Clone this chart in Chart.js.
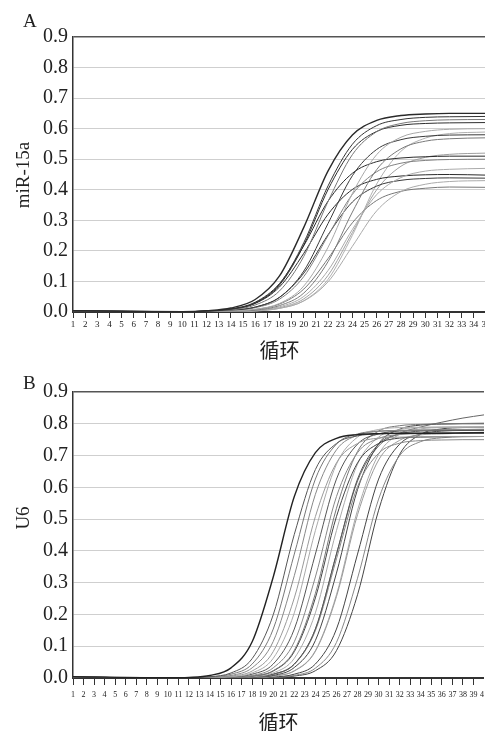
<!DOCTYPE html>
<html>
<head>
<meta charset="utf-8">
<script src="https://cdn.jsdelivr.net/npm/chart.js@4.4.1/dist/chart.umd.min.js"></script>
<style>
  body { margin: 0; background: #fff; overflow: hidden; width: 485px; height: 731px; position: relative; font-family: 'Liberation Serif', serif; }
  .box { position: absolute; left: 0; }
  .panel { position: absolute; font-size: 19px; line-height: 19px; color: #222; }
  .ytitle { position: absolute; font-size: 19px; line-height: 19px; color: #222; white-space: nowrap; transform: translate(-50%, -50%) rotate(-90deg); }
</style>
</head>
<body>
<div class="box" style="top:0; width:486px; height:365px"><canvas id="chartA"></canvas></div>
<div class="box" style="top:365px; width:484px; height:380px"><canvas id="chartB"></canvas></div>
<div class="panel" id="panelA" style="left:23px; top:11px"></div>
<div class="panel" id="panelB" style="left:23px; top:373px"></div>
<div class="ytitle" id="yTitleA" style="left:22px; top:175px"></div>
<div class="ytitle" id="yTitleB" style="left:22px; top:518px"></div>
<script>
// text
const xTitle = '循环';
const yTitleA = 'miR-15a';
const yTitleB = 'U6';
const panelA = 'A';
const panelB = 'B';

// A: miR-15a amplification curves, read at these cycles
const cyclesA = [1, 10, 12, 14, 16, 18, 20, 22, 24, 26, 28, 30, 32, 35];
const a01 = [0.004, 0.001, 0.004, 0.013, 0.041, 0.118, 0.277, 0.462, 0.579, 0.627, 0.643, 0.648, 0.650, 0.650];
const a02 = [0.004, 0.001, 0.003, 0.009, 0.030, 0.091, 0.227, 0.413, 0.549, 0.610, 0.630, 0.637, 0.639, 0.640];
const a03 = [0.003, 0.001, 0.002, 0.007, 0.023, 0.069, 0.182, 0.362, 0.515, 0.590, 0.617, 0.626, 0.629, 0.630];
const a04 = [0.003, 0.001, 0.003, 0.009, 0.029, 0.088, 0.219, 0.401, 0.532, 0.591, 0.611, 0.617, 0.619, 0.620];
const a05 = [0.002, 0.000, 0.001, 0.003, 0.009, 0.028, 0.085, 0.212, 0.388, 0.515, 0.572, 0.591, 0.598, 0.600];
const a06 = [0.003, 0.001, 0.001, 0.005, 0.016, 0.048, 0.134, 0.290, 0.446, 0.532, 0.564, 0.575, 0.579, 0.580];
const a07 = [0.002, 0.000, 0.001, 0.002, 0.006, 0.021, 0.062, 0.165, 0.327, 0.466, 0.534, 0.559, 0.567, 0.570];
const a08 = [0.004, 0.001, 0.003, 0.010, 0.032, 0.093, 0.217, 0.363, 0.454, 0.492, 0.504, 0.508, 0.510, 0.510];
const a09 = [0.003, 0.000, 0.001, 0.004, 0.014, 0.042, 0.116, 0.250, 0.385, 0.459, 0.487, 0.496, 0.499, 0.500];
const a10 = [0.002, 0.000, 0.000, 0.001, 0.005, 0.017, 0.051, 0.136, 0.270, 0.384, 0.440, 0.461, 0.467, 0.470];
const a11 = [0.004, 0.001, 0.003, 0.009, 0.028, 0.082, 0.192, 0.320, 0.401, 0.434, 0.445, 0.449, 0.450, 0.448];
const a12 = [0.003, 0.001, 0.001, 0.005, 0.016, 0.048, 0.127, 0.253, 0.360, 0.412, 0.431, 0.437, 0.439, 0.438];
const a13 = [0.002, 0.000, 0.000, 0.001, 0.003, 0.012, 0.036, 0.099, 0.215, 0.331, 0.394, 0.418, 0.427, 0.430];
const a14 = [0.002, 0.000, 0.001, 0.002, 0.008, 0.026, 0.075, 0.175, 0.292, 0.365, 0.395, 0.405, 0.409, 0.408];
const a15 = [0.002, 0.000, 0.000, 0.001, 0.004, 0.012, 0.037, 0.107, 0.251, 0.419, 0.526, 0.569, 0.584, 0.589];
const a16 = [0.002, 0.000, 0.000, 0.001, 0.004, 0.014, 0.043, 0.120, 0.260, 0.400, 0.477, 0.506, 0.516, 0.520];

// B: U6 amplification curves
const cyclesB = [1, 10, 12, 14, 16, 18, 20, 22, 24, 26, 28, 30, 32, 34, 36, 38, 40];
const b01 = [0.004, 0.001, 0.002, 0.008, 0.032, 0.114, 0.318, 0.571, 0.709, 0.754, 0.766, 0.769, 0.770, 0.770, 0.770, 0.771, 0.772];
const b02 = [0.004, 0.001, 0.001, 0.004, 0.016, 0.061, 0.199, 0.452, 0.656, 0.738, 0.762, 0.768, 0.770, 0.770, 0.771, 0.772, 0.773];
const b03 = [0.003, 0.000, 0.001, 0.002, 0.008, 0.032, 0.115, 0.322, 0.578, 0.718, 0.764, 0.776, 0.779, 0.780, 0.781, 0.782, 0.783];
const b04 = [0.003, 0.000, 0.000, 0.001, 0.006, 0.022, 0.083, 0.252, 0.508, 0.677, 0.738, 0.755, 0.758, 0.759, 0.760, 0.760, 0.760];
const b05 = [0.003, 0.000, 0.000, 0.001, 0.004, 0.016, 0.062, 0.205, 0.464, 0.673, 0.758, 0.782, 0.788, 0.789, 0.790, 0.790, 0.790];
const b06 = [0.003, 0.000, 0.000, 0.001, 0.003, 0.012, 0.044, 0.154, 0.390, 0.626, 0.736, 0.768, 0.777, 0.779, 0.780, 0.780, 0.781];
const b07 = [0.003, 0.000, 0.000, 0.000, 0.002, 0.008, 0.032, 0.114, 0.318, 0.571, 0.709, 0.754, 0.766, 0.769, 0.770, 0.770, 0.770];
const b08 = [0.002, 0.000, 0.000, 0.000, 0.001, 0.006, 0.023, 0.087, 0.266, 0.534, 0.713, 0.777, 0.794, 0.798, 0.800, 0.801, 0.802];
const b09 = [0.003, 0.000, 0.000, 0.000, 0.001, 0.006, 0.022, 0.083, 0.252, 0.508, 0.677, 0.738, 0.755, 0.758, 0.759, 0.760, 0.760];
const b10 = [0.002, 0.000, 0.000, 0.000, 0.001, 0.004, 0.016, 0.062, 0.205, 0.464, 0.673, 0.758, 0.782, 0.788, 0.789, 0.790, 0.790];
const b11 = [0.002, 0.000, 0.000, 0.000, 0.001, 0.003, 0.012, 0.044, 0.154, 0.390, 0.626, 0.736, 0.768, 0.777, 0.779, 0.780, 0.780];
const b12 = [0.002, 0.000, 0.000, 0.000, 0.001, 0.003, 0.011, 0.043, 0.149, 0.375, 0.602, 0.707, 0.739, 0.747, 0.749, 0.750, 0.750];
const b13 = [0.002, 0.000, 0.000, 0.000, 0.000, 0.002, 0.008, 0.033, 0.118, 0.330, 0.593, 0.737, 0.783, 0.796, 0.799, 0.800, 0.800];
const b14 = [0.002, 0.000, 0.000, 0.000, 0.000, 0.001, 0.006, 0.022, 0.084, 0.256, 0.514, 0.686, 0.748, 0.765, 0.768, 0.770, 0.770];
const b15 = [0.002, 0.000, 0.000, 0.000, 0.000, 0.001, 0.006, 0.023, 0.086, 0.262, 0.528, 0.704, 0.767, 0.784, 0.788, 0.789, 0.790];
const b16 = [0.003, 0.000, 0.000, 0.000, 0.001, 0.003, 0.012, 0.044, 0.154, 0.390, 0.620, 0.730, 0.770, 0.790, 0.805, 0.818, 0.828];
const b17 = [0.002, 0.000, 0.000, 0.000, 0.000, 0.001, 0.003, 0.012, 0.044, 0.154, 0.390, 0.626, 0.736, 0.768, 0.777, 0.779, 0.780];
const b18 = [0.002, 0.000, 0.000, 0.000, 0.000, 0.000, 0.002, 0.008, 0.031, 0.112, 0.314, 0.563, 0.700, 0.744, 0.756, 0.759, 0.760];
const b19 = [0.002, 0.000, 0.000, 0.000, 0.000, 0.000, 0.001, 0.006, 0.023, 0.086, 0.262, 0.528, 0.704, 0.767, 0.784, 0.788, 0.789];
const b20 = [0.003, 0.000, 0.001, 0.003, 0.012, 0.044, 0.154, 0.390, 0.626, 0.736, 0.768, 0.777, 0.779, 0.780, 0.780, 0.780, 0.780];

const seriesA = [a01, a02, a03, a04, a05, a06, a07, a08, a09, a10, a11, a12, a13, a14, a15, a16];
const seriesB = [b01, b02, b03, b04, b05, b06, b07, b08, b09, b10, b11, b12, b13, b14, b15, b16, b17, b18, b19, b20];

// line shades (style only)
const shadesA = ['#2a2a2a', '#333', '#777', '#2e2e2e', '#a8a8a8', '#3a3a3a', '#7a7a7a', '#2a2a2a', '#808080', '#aaa', '#2a2a2a', '#3a3a3a', '#aaa', '#777', '#b0b0b0', '#a0a0a0'];
const shadesB = ['#222', '#555', '#888', '#999', '#aaa', '#555', '#888', '#777', '#444', '#aaa', '#555', '#888', '#444', '#999', '#aaa', '#666', '#444', '#888', '#444', '#777'];

document.getElementById('panelA').textContent = panelA;
document.getElementById('panelB').textContent = panelB;
document.getElementById('yTitleA').textContent = yTitleA;
document.getElementById('yTitleB').textContent = yTitleB;

function makeChart(id, cycles, series, shades, xMax, opts) {
    const ctx = document.getElementById(id).getContext('2d');
    return new Chart(ctx, {
        type: 'line',
        data: {
            datasets: series.map((vals, i) => ({
                data: cycles.map((c, j) => ({ x: c, y: vals[j] })),
                borderColor: shades[i],
                borderWidth: i === 0 ? 1.4 : 1,
                pointRadius: 0,
                cubicInterpolationMode: 'monotone',
                fill: false
            }))
        },
        options: {
            responsive: true,
            maintainAspectRatio: false,
            animation: false,
            layout: { padding: { top: opts.padTop, left: 0, right: 0, bottom: 0 } },
            plugins: { legend: { display: false }, tooltip: { enabled: false } },
            scales: {
                x: {
                    type: 'linear',
                    min: 1,
                    max: xMax,
                    afterFit: scale => {
                        scale.height = opts.xHeight;
                        scale.paddingLeft = 0;
                        scale.paddingRight = 0;
                    },
                    border: { display: true, color: '#333', width: 1.5 },
                    grid: { drawOnChartArea: false, drawTicks: true, tickLength: opts.tickLen, color: '#333', lineWidth: 1 },
                    ticks: {
                        stepSize: 1,
                        autoSkip: false,
                        maxRotation: 0,
                        padding: opts.tickPad,
                        color: '#222',
                        font: { family: 'Liberation Serif', size: opts.xFont }
                    },
                    title: {
                        display: true,
                        text: xTitle,
                        color: '#222',
                        font: { family: 'Noto Sans CJK SC', size: 20 },
                        padding: { top: 0, bottom: opts.titlePad }
                    }
                },
                y: {
                    min: 0,
                    max: 0.9,
                    afterFit: scale => { scale.width = 73; },
                    border: { display: true, color: '#333', width: 1.5 },
                    grid: {
                        drawTicks: false,
                        color: c => c.tick.value > 0.85 ? '#555' : (c.tick.value < 0.05 ? '#333' : '#cfcfcf'),
                        lineWidth: c => c.tick.value > 0.85 ? 1.5 : 1
                    },
                    ticks: {
                        stepSize: 0.1,
                        padding: 5,
                        color: '#222',
                        font: { family: 'Liberation Serif', size: 20 },
                        callback: v => v.toFixed(1)
                    }
                }
            }
        }
    });
}

makeChart('chartA', cyclesA, seriesA, shadesA, 35, { padTop: 37, xHeight: 53, tickLen: 6, tickPad: 1, xFont: 9, titlePad: 3 });
makeChart('chartB', cyclesB, seriesB, shadesB, 40, { padTop: 27, xHeight: 67, tickLen: 7, tickPad: 5, xFont: 8, titlePad: 11 });
</script>
</body>
</html>
